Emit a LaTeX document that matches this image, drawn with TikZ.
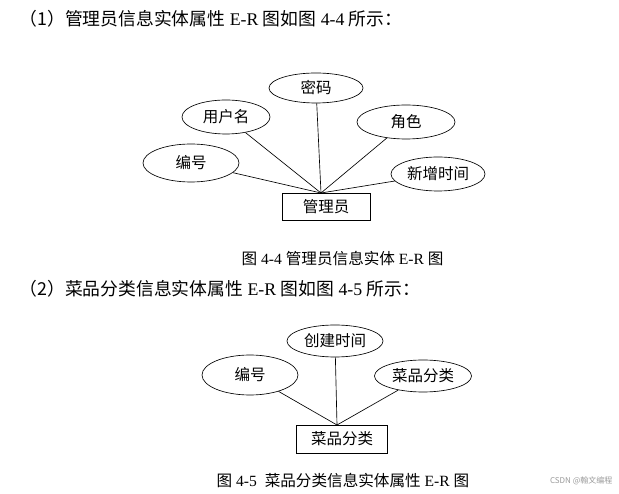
\documentclass[tikz,border=0pt]{standalone}
\usepackage{fontspec}
\setmainfont{Liberation Serif}
\newfontfamily\cjk{Noto Sans CJK SC}
\usetikzlibrary{shapes.geometric}
\tikzset{
  attr/.style={draw,ellipse,inner sep=0pt,font=\cjk\fontsize{15.5}{16}\selectfont},
  entity/.style={draw,rectangle,inner sep=0pt,font=\cjk\fontsize{15.5}{16}\selectfont},
  heading/.style={anchor=west,font=\fontsize{17.8}{18}\selectfont},
  caption/.style={anchor=west,font=\fontsize{15.6}{16}\selectfont}
}
\begin{document}
\begin{tikzpicture}[x=1pt,y=-1pt,line width=0.65pt]
  \useasboundingbox (0,0) rectangle (619,494);
  % HEADING 1
  \node[heading] (head1) at (16,19) {{\cjk （1）管理员信息实体属性} E-R {\cjk 图如图} 4-4 {\cjk 所示：}};
  % TOP : admin
  \begin{scope}
    \node[entity,minimum width=88,minimum height=27] (admin) at (326,207) {管理员};
    \coordinate (hub1) at (321,193);
    \node[attr,minimum width=96,minimum height=38] (aid) at (191,163) {编号};
    \node[attr,minimum width=88,minimum height=34] (aname) at (226,117) {用户名};
    \node[attr,minimum width=94,minimum height=30] (apwd) at (316,88) {密码};
    \node[attr,minimum width=98,minimum height=34] (arole) at (406,122) {角色};
    \node[attr,minimum width=94,minimum height=34] (atime) at (438,174) {新增时间};
    \draw (aid) -- (hub1);
    \draw (aname) -- (hub1);
    \draw (apwd) -- (hub1);
    \draw (arole) -- (hub1);
    \draw (atime) -- (hub1);
  \end{scope}
  \node[caption] (cap1) at (238,259) {{\cjk 图} 4-4 {\cjk 管理员信息实体} E-R {\cjk 图}};
  % HEADING 2
  \node[heading] (head2) at (16,289) {{\cjk （2）菜品分类信息实体属性} E-R {\cjk 图如图} 4-5 {\cjk 所示：}};
  % BOTTOM : dish category
  \begin{scope}
    \node[entity,minimum width=91,minimum height=28] (dcat) at (342,439) {菜品分类};
    \coordinate (hub2) at (337,425);
    \node[attr,minimum width=96,minimum height=40] (did) at (250,375) {编号};
    \node[attr,minimum width=96,minimum height=32] (dtime) at (335,341) {创建时间};
    \node[attr,minimum width=97,minimum height=32] (dname) at (423,376) {菜品分类};
    \draw (did) -- (hub2);
    \draw (dtime) -- (hub2);
    \draw (dname) -- (hub2);
  \end{scope}
  \node[caption] (cap2) at (213,481) {{\cjk 图} 4-5\ \ {\cjk 菜品分类信息实体属性} E-R {\cjk 图}};
  \node[anchor=east,text=black!40,font=\cjk\fontsize{8}{8}\selectfont] (mark) at (616,481) {CSDN @翰文编程};
\end{tikzpicture}
\end{document}
